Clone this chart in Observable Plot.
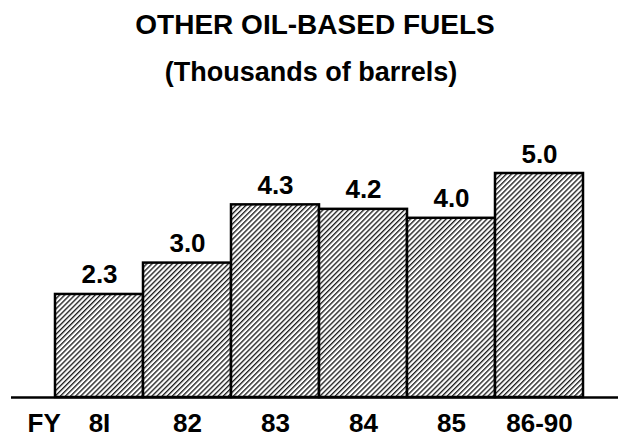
<!DOCTYPE html>
<html>
<head>
<meta charset="utf-8">
<script src="https://cdn.jsdelivr.net/npm/d3@7"></script>
<script src="https://cdn.jsdelivr.net/npm/@observablehq/plot@0.6"></script>
<style>
  html, body { margin: 0; padding: 0; background: #fff; }
  body { width: 618px; height: 438px; overflow: hidden; font-family: "Liberation Sans", Arial, sans-serif; color: #000; }
  .title { font-size: 28px; font-weight: bold; line-height: 50px; height: 50px; text-align: center; padding-left: 12px; white-space: nowrap; }
  .subtitle { font-size: 27px; font-weight: bold; line-height: 44px; height: 44px; text-align: center; padding-left: 4px; white-space: nowrap; }
  #chart svg { display: block; }
</style>
</head>
<body>
<div class="title">OTHER OIL-BASED FUELS</div>
<div class="subtitle">(Thousands of barrels)</div>
<div id="chart"></div>
<script>
const years = ["8I", "82", "83", "84", "85", "86-90"];
const values = [2.3, 3.0, 4.3, 4.2, 4.0, 5.0];
const valueLabels = ["2.3", "3.0", "4.3", "4.2", "4.0", "5.0"];
const axisPrefix = ["FY"];

const data = years.map((year, i) => ({year, value: values[i], label: valueLabels[i]}));
const font = "Liberation Sans, Arial, sans-serif";

const chart = Plot.plot({
  width: 618,
  height: 344,
  marginLeft: 11,
  marginRight: 0,
  marginTop: 79,
  marginBottom: 41,
  style: {fontFamily: font, background: "#fff", color: "#000"},
  x: {domain: years, range: [54, 583], padding: 0, label: null, axis: null},
  y: {domain: [0, 5], axis: null},
  marks: [
    Plot.barY(data, {x: "year", y: "value", fill: "url(#hatch)", stroke: "#000", strokeWidth: 2.5, insetLeft: 0, insetRight: 0}),
    Plot.ruleY([0], {stroke: "#000", strokeWidth: 2.7}),
    Plot.text(data, {x: "year", y: "value", text: "label", lineAnchor: "bottom", dy: -11, fontSize: 26, fontWeight: "bold", fill: "#000"}),
    Plot.axisX({tickSize: 0, tickPadding: 16, fontSize: 26, fontWeight: "bold", fill: "#000", label: null}),
    Plot.text(axisPrefix, {frameAnchor: "bottom-left", text: d => d, textAnchor: "start", lineAnchor: "top", dx: 16, dy: 16, fontSize: 26, fontWeight: "bold", fill: "#000"})
  ]
});

// hatch pattern definition
const ns = "http://www.w3.org/2000/svg";
const defs = document.createElementNS(ns, "defs");
const pat = document.createElementNS(ns, "pattern");
pat.setAttribute("id", "hatch");
pat.setAttribute("patternUnits", "userSpaceOnUse");
pat.setAttribute("width", "3.6");
pat.setAttribute("height", "3.6");
pat.setAttribute("patternTransform", "rotate(45)");
const bg = document.createElementNS(ns, "rect");
bg.setAttribute("width", "3.6");
bg.setAttribute("height", "3.6");
bg.setAttribute("fill", "#fff");
const ln = document.createElementNS(ns, "line");
ln.setAttribute("x1", "0.7"); ln.setAttribute("y1", "0");
ln.setAttribute("x2", "0.7"); ln.setAttribute("y2", "3.6");
ln.setAttribute("stroke", "#000");
ln.setAttribute("stroke-width", "1.2");
pat.appendChild(bg);
pat.appendChild(ln);
defs.appendChild(pat);
chart.insertBefore(defs, chart.firstChild);

document.getElementById("chart").appendChild(chart);
</script>
</body>
</html>
